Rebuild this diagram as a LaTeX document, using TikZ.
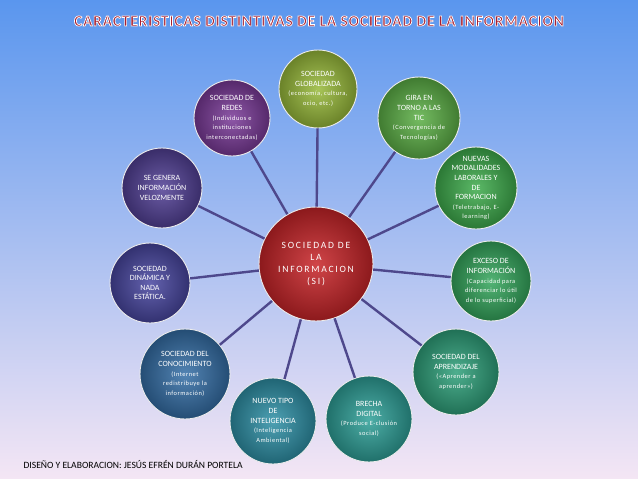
\documentclass[tikz,border=0pt]{standalone}
\usepackage{fontspec}
\setmainfont{Carlito}
\definecolor{bgtop}{RGB}{90,150,238}
\definecolor{bgmid}{RGB}{168,202,240}
\definecolor{bgbot}{RGB}{244,230,244}
\definecolor{spoke}{RGB}{78,72,140}
\definecolor{titrojo}{RGB}{168,30,46}
\definecolor{siRed}{RGB}{200,36,40}
\definecolor{cRedes}{RGB}{122,58,152}
\definecolor{cGlob}{RGB}{152,186,58}
\definecolor{cTic}{RGB}{92,176,70}
\definecolor{cModal}{RGB}{62,172,76}
\definecolor{cExceso}{RGB}{52,166,92}
\definecolor{cAprend}{RGB}{46,160,122}
\definecolor{cBrecha}{RGB}{46,160,152}
\definecolor{cIntel}{RGB}{46,144,166}
\definecolor{cConoc}{RGB}{52,110,166}
\definecolor{cDinam}{RGB}{72,70,160}
\definecolor{cVeloz}{RGB}{82,64,150}
\newcommand\sm{\fontsize{6.4}{8.6}\selectfont\addfontfeatures{LetterSpace=8}}
% borde blanco del titulo
\newcommand\contorno[1]{\special{pdf:literal direct 2 Tr 1 1 1 RG 0.7 w}#1\special{pdf:literal direct 0 Tr}}

\begin{document}
\begin{tikzpicture}[x=1pt,y=-1pt,
    bola/.style={circle,minimum size=#1,inner sep=0pt,align=center,text=white,
        draw=white!85!gray,line width=0.9pt,font=\fontsize{8}{9.6}\selectfont},
    rayo/.style={draw=spoke,line width=2.4pt}]
    \useasboundingbox (0,0) rectangle (638,479);
    \shade[top color=bgtop,middle color=bgmid,bottom color=bgbot] (0,0) rectangle (638,479);
    % titulo
    \node[text=titrojo,font=\bfseries\fontsize{15.5}{16}\selectfont\addfontfeatures{LetterSpace=5}] (titulo) at (319,21)
        {\contorno{CARACTERISTICAS DISTINTIVAS DE LA SOCIEDAD DE LA INFORMACION}};
    % circulo central
    \node[bola=114,inner color=siRed!85!white,outer color=siRed!70!black,
        font=\fontsize{9.6}{11.8}\selectfont\addfontfeatures{LetterSpace=18}] (si) at (316,264)
        {SOCIEDAD DE\\LA\\INFORMACION\\(SI)};
    % circulos exteriores
    \node[bola=76,inner color=cRedes!85!white,outer color=cRedes!70!black] (redes) at (232,118)
        {SOCIEDAD DE\\REDES\\\sm(Individuos e\\\sm instituciones\\\sm interconectadas)};
    \node[bola=78,inner color=cGlob!85!white,outer color=cGlob!70!black] (glob) at (318,89)
        {SOCIEDAD\\GLOBALIZADA\\\sm(economía, cultura,\\\sm ocio, etc.)};
    \node[bola=82,inner color=cTic!85!white,outer color=cTic!70!black] (tic) at (419,118)
        {GIRA EN\\TORNO A LAS\\TIC\\\sm(Convergencia de\\\sm Tecnologías)};
    \node[bola=82,inner color=cModal!85!white,outer color=cModal!70!black] (modal) at (476,188)
        {NUEVAS\\MODALIDADES\\LABORALES Y\\DE\\FORMACION\\\sm(Teletrabajo, E-\\\sm learning)};
    \node[bola=80,inner color=cExceso!85!white,outer color=cExceso!70!black] (exceso) at (491,281)
        {EXCESO DE\\INFORMACIÓN\\\sm(Capacidad para\\\sm diferenciar lo útil\\\sm de lo superficial)};
    \node[bola=86,inner color=cAprend!85!white,outer color=cAprend!70!black] (aprend) at (456,372)
        {SOCIEDAD DEL\\APRENDIZAJE\\\sm(«Aprender a\\\sm aprender»)};
    \node[bola=86,inner color=cBrecha!85!white,outer color=cBrecha!70!black] (brecha) at (369,419)
        {BRECHA\\DIGITAL\\\sm(Produce E-clusión\\\sm social)};
    \node[bola=86,inner color=cIntel!85!white,outer color=cIntel!70!black] (intel) at (273,421)
        {NUEVO TIPO\\DE\\INTELIGENCIA\\\sm(Inteligencia\\\sm Ambiental)};
    \node[bola=90,inner color=cConoc!85!white,outer color=cConoc!70!black] (conoc) at (185,374)
        {SOCIEDAD DEL\\CONOCIMIENTO\\\sm(Internet\\\sm redistribuye la\\\sm información)};
    \node[bola=80,inner color=cDinam!85!white,outer color=cDinam!70!black] (dinam) at (150,283)
        {SOCIEDAD\\DINÁMICA Y\\NADA\\ESTÁTICA.};
    \node[bola=80,inner color=cVeloz!85!white,outer color=cVeloz!70!black] (veloz) at (162,188)
        {SE GENERA\\INFORMACIÓN\\VELOZMENTE};
    % rayos desde el centro
    \foreach \n in {redes,glob,tic,modal,exceso,aprend,brecha,intel,conoc,dinam,veloz}
        \draw[rayo] (si) -- (\n);
    \node[anchor=west,font=\fontsize{9.6}{11}\selectfont] (autor) at (20,465)
        {DISEÑO Y ELABORACION: JESÚS EFRÉN DURÁN PORTELA};
\end{tikzpicture}
\end{document}
